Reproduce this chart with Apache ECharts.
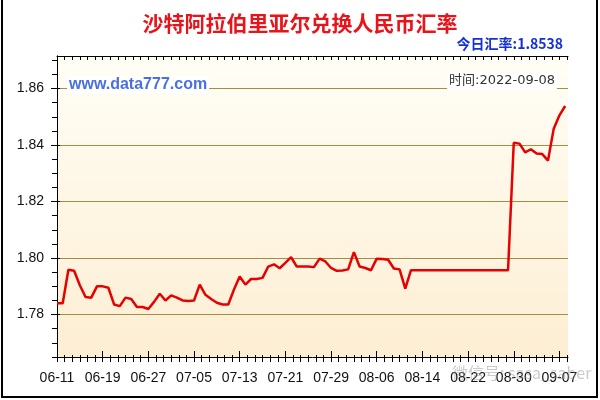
<!DOCTYPE html>
<html>
<head>
<meta charset="utf-8">
<script src="https://cdn.jsdelivr.net/npm/echarts@6/dist/echarts.min.js"></script>
<style>
html,body{margin:0;padding:0;background:#fff;}
#c{width:600px;height:400px;}
</style>
</head>
<body>
<div id="c"></div>
<script>
// ---- data ----
var startDate = '2022-06-11';
var dayCount = 90; // 06-11 .. 09-08
var xLabelDays = [0, 8, 16, 24, 32, 40, 48, 56, 64, 72, 80, 88];
var xLabelTexts = ['06-11','06-19','06-27','07-05','07-13','07-21','07-29','08-06','08-14','08-22','08-30','09-07'];
var yLabelValues = [1.78, 1.80, 1.82, 1.84, 1.86];
var rates = [
  1.7840, 1.7840, 1.7959, 1.7955, 1.7904, 1.7862, 1.7860, 1.7900, 1.7900, 1.7895,
  1.7836, 1.7830, 1.7860, 1.7855, 1.7827, 1.7827, 1.7820, 1.7845, 1.7874, 1.7850,
  1.7868, 1.7860, 1.7850, 1.7848, 1.7850, 1.7906, 1.7870, 1.7855, 1.7842, 1.7836,
  1.7836, 1.7889, 1.7935, 1.7906, 1.7926, 1.7926, 1.7930, 1.7970, 1.7978, 1.7964,
  1.7983, 1.8003, 1.7970, 1.7970, 1.7970, 1.7968, 1.7998, 1.7988, 1.7965, 1.7955,
  1.7956, 1.7960, 1.8021, 1.7970, 1.7965, 1.7957, 1.7998, 1.7997, 1.7994, 1.7963,
  1.7960, 1.7892, 1.7957, 1.7957, 1.7957, 1.7957, 1.7957, 1.7957, 1.7957, 1.7957,
  1.7957, 1.7957, 1.7957, 1.7957, 1.7957, 1.7957, 1.7957, 1.7957, 1.7957, 1.7957,
  1.8408, 1.8405, 1.8374, 1.8385, 1.8370, 1.8368, 1.8345, 1.8458, 1.8505, 1.8538
];
var titleText = '沙特阿拉伯里亚尔兑换人民币汇率';
var todayText = '今日汇率:1.8538';
var timeText = '时间:2022-09-08';
var siteText = 'www.data777.com';

// ---- build ----
var xMinorTicks = [];
for (var k = 0; k * 8 / 6 <= 89.5; k++) xMinorTicks.push(+(k * 8 / 6).toFixed(4));
var yMinorTicks = [];
for (var j = 0; j <= 21; j++) yMinorTicks.push(+(1.765 + j * 0.005).toFixed(3));
var seriesData = rates.map(function (v, i) { return [i, v]; });
var labelMap = {};
xLabelDays.forEach(function (d, i) { labelMap[d] = xLabelTexts[i]; });

var chart = echarts.init(document.getElementById('c'), null, {renderer: 'canvas'});
var axisFont = {color: '#111', fontSize: 14, fontFamily: 'Liberation Sans, Arial, sans-serif'};
function tickAxisX(pos, inside, len, vals) {
  return {
    type: 'value', min: 0, max: 89.5, position: pos,
    axisLine: {show: false},
    axisTick: {show: true, inside: inside, customValues: vals, length: len, lineStyle: {color: '#000'}},
    axisLabel: {show: false}, splitLine: {show: false}
  };
}
function tickAxisY(pos, inside, len, vals) {
  return {
    type: 'value', min: 1.765, max: 1.8715, position: pos, offset: 0,
    axisLine: {show: false},
    axisTick: {show: true, inside: inside, customValues: vals, length: len, lineStyle: {color: '#000'}},
    axisLabel: {show: false}, splitLine: {show: false}
  };
}
var option = {
  animation: false,
  backgroundColor: '#ffffff',
  title: {
    text: titleText, left: 'center', top: 8,
    textStyle: {color: '#e8141a', fontSize: 21, fontWeight: 'bold', fontFamily: 'Noto Sans CJK SC'}
  },
  grid: {
    left: 57, right: 32, top: 56, bottom: 43, show: true, borderWidth: 0,
    backgroundColor: new echarts.graphic.LinearGradient(0, 0, 0, 1, [
      {offset: 0, color: '#fffef6'}, {offset: 1, color: '#fdeed3'}
    ])
  },
  xAxis: [{
    type: 'value', min: 0, max: 89.5, position: 'bottom',
    axisLine: {show: true, lineStyle: {color: '#000', width: 1}},
    axisTick: {show: true, customValues: xMinorTicks, length: 5, lineStyle: {color: '#000'}},
    axisLabel: Object.assign({customValues: xLabelDays, margin: 14, formatter: function (v) { return labelMap[Math.round(v)] || ''; }}, axisFont),
    splitLine: {show: false}
  }, {
    type: 'value', min: 0, max: 89.5, position: 'top',
    axisLine: {show: true, lineStyle: {color: '#000', width: 1}},
    axisTick: {show: true, inside: true, customValues: xMinorTicks, length: 4, lineStyle: {color: '#000'}},
    axisLabel: {show: false},
    splitLine: {show: false}
  },
  tickAxisX('bottom', true, 2, xMinorTicks),
  tickAxisX('bottom', true, 6, xLabelDays)
  ],
  yAxis: [{
    type: 'value', min: 1.765, max: 1.8715, position: 'left',
    axisLine: {show: true, lineStyle: {color: '#000', width: 1}},
    axisTick: {show: true, customValues: yLabelValues, length: 6, lineStyle: {color: '#000'}},
    axisLabel: Object.assign({customValues: yLabelValues, margin: 13, formatter: function (v) { return v.toFixed(2); }}, axisFont),
    splitLine: {show: true, lineStyle: {color: '#a58d3f', width: 1}}
  },
  tickAxisY('left', false, 5, yMinorTicks),
  {
    type: 'value', min: 1.765, max: 1.8715, position: 'right', offset: 0,
    axisLine: {show: true, lineStyle: {color: '#000', width: 1}},
    axisTick: {show: true, inside: true, customValues: yMinorTicks, length: 4, lineStyle: {color: '#000'}},
    axisLabel: {show: false},
    splitLine: {show: false}
  },
  tickAxisY('left', true, 3, yLabelValues)
  ],
  series: [{
    type: 'line', xAxisIndex: 0, yAxisIndex: 0,
    data: seriesData, showSymbol: false, symbol: 'none',
    lineStyle: {color: '#e60000', width: 2.5},
    z: 3
  }],
  graphic: [
    {type: 'text', z: 10, style: {text: todayText, x: 563, y: 44, align: 'right', verticalAlign: 'middle',
      fill: '#1530d6', font: 'bold 14px "Noto Sans CJK SC", sans-serif'}},
    {type: 'text', z: 10, style: {text: siteText, x: 67, y: 85, align: 'left', verticalAlign: 'middle',
      fill: '#4a6fe3', font: 'bold 16px "Liberation Sans", Arial, sans-serif', backgroundColor: '#ffffff', padding: [1, 2, 1, 2]}},
    {type: 'text', z: 10, style: {text: timeText, x: 557, y: 81, align: 'right', verticalAlign: 'middle',
      fill: '#333333', font: '13px "DejaVu Sans", "Noto Sans CJK SC", sans-serif', backgroundColor: '#ffffff', padding: [2, 2, 2, 2]}},
    {type: 'text', z: 10, style: {text: '微信号: sasa_saber', x: 452, y: 373, align: 'left', verticalAlign: 'middle',
      fill: 'rgba(140,140,140,0.45)', font: '16px "Noto Sans CJK SC", sans-serif'}},
    {type: 'polyline', z: 10, shape: {points: [[2, 0], [2, 397], [597, 397], [597, 0]]},
      style: {stroke: '#000', lineWidth: 2, fill: null}}
  ]
};
chart.setOption(option);
</script>
</body>
</html>
